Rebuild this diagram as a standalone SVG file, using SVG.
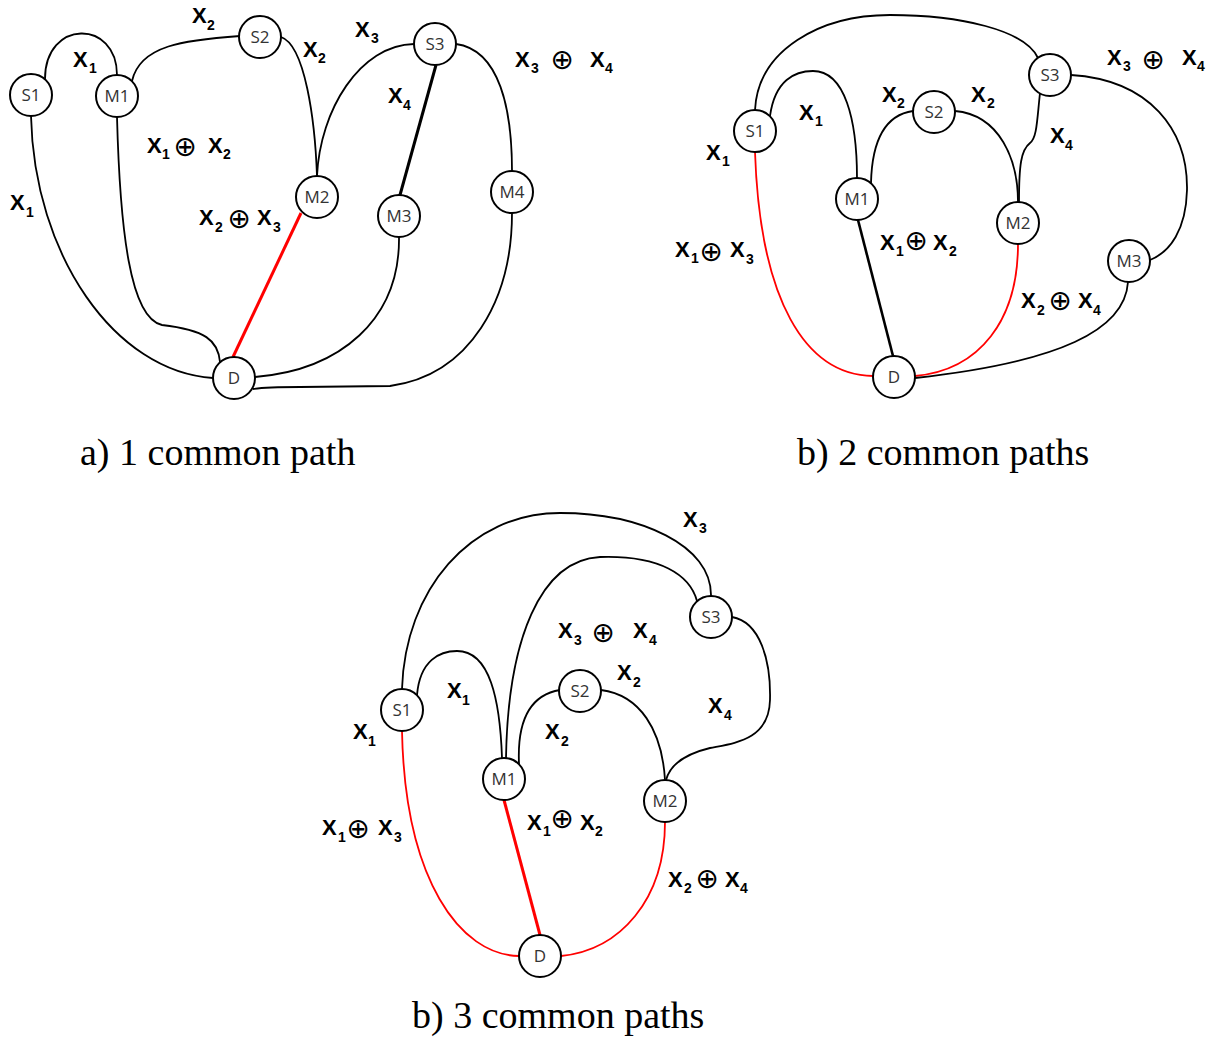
<svg xmlns="http://www.w3.org/2000/svg" width="1221" height="1040" viewBox="0 0 1221 1040">
<style>
.e{fill:none;stroke:#000;stroke-width:1.8}
.r{stroke:#f00}
.t{stroke-width:3}
.n circle{fill:#fff;stroke:#000;stroke-width:2}
.n text{font-family:"Open Sans","Liberation Sans",sans-serif;font-size:17px;fill:#333;text-anchor:middle}
.l{font-family:"Liberation Sans",Arial,sans-serif;font-weight:bold;font-size:22px;fill:#000}
.s{font-size:14px}
.o{font-family:"DejaVu Sans",sans-serif;font-weight:normal;font-size:28px;text-anchor:middle}
.cap{font-family:"Liberation Serif","Times New Roman",serif;font-size:38px;fill:#000}
</style>
<rect width="1221" height="1040" fill="#fff"/>

<!-- (a) one common path -->
<g id="edges-a">
  <path class="e" d="M45,79 C45,19 117,19 117,75"/>
  <path class="e" d="M132,81 C140,45 185,40 240,36"/>
  <path class="e" d="M281,37 C305,45 315,120 317,176"/>
  <path class="e" d="M414,44 C360,45 320,110 317,176"/>
  <path class="e t" d="M436,65 L400,195"/>
  <path class="e" d="M456,44 C500,50 512,110 512,171"/>
  <path class="e" d="M31,116 C34,255 115,372 213,378"/>
  <path class="e" d="M117,117 C120,230 130,318 162,325 C205,330 218,340 220,362"/>
  <path class="e r t" d="M301,213 L233,357"/>
  <path class="e" d="M399,237 C400,320 340,370 255,377"/>
  <path class="e" d="M253,389 C265,387 280,387 300,387 L390,386 C470,375 512,300 512,213"/>
</g>
<g id="a-S1" class="n"><circle cx="31" cy="95" r="21"/><text x="31" y="101">S1</text></g>
<g id="a-M1" class="n"><circle cx="117" cy="96" r="21"/><text x="117" y="102">M1</text></g>
<g id="a-S2" class="n"><circle cx="260" cy="37" r="21"/><text x="260" y="43">S2</text></g>
<g id="a-S3" class="n"><circle cx="435" cy="44" r="21"/><text x="435" y="50">S3</text></g>
<g id="a-M2" class="n"><circle cx="317" cy="197" r="21"/><text x="317" y="203">M2</text></g>
<g id="a-M3" class="n"><circle cx="399" cy="216" r="21"/><text x="399" y="222">M3</text></g>
<g id="a-M4" class="n"><circle cx="512" cy="192" r="21"/><text x="512" y="198">M4</text></g>
<g id="a-D" class="n"><circle cx="234" cy="378" r="21"/><text x="234" y="384">D</text></g>
<g id="labels-a">
  <text class="l"><tspan x="73" y="67">X</tspan><tspan class="s" x="89" y="73">1</tspan></text>
  <text class="l"><tspan x="192" y="23">X</tspan><tspan class="s" x="207" y="30">2</tspan></text>
  <text class="l"><tspan x="147" y="153">X</tspan><tspan class="s" x="162" y="159">1</tspan><tspan class="o" x="185" y="156">⊕</tspan><tspan x="208" y="153">X</tspan><tspan class="s" x="223" y="159">2</tspan></text>
  <text class="l"><tspan x="303" y="57">X</tspan><tspan class="s" x="318" y="63">2</tspan></text>
  <text class="l"><tspan x="355" y="37">X</tspan><tspan class="s" x="371" y="43">3</tspan></text>
  <text class="l"><tspan x="388" y="103">X</tspan><tspan class="s" x="403" y="110">4</tspan></text>
  <text class="l"><tspan x="515" y="67">X</tspan><tspan class="s" x="531" y="73">3</tspan><tspan class="o" x="562" y="69">⊕</tspan><tspan x="590" y="67">X</tspan><tspan class="s" x="605" y="73">4</tspan></text>
  <text class="l"><tspan x="10" y="210">X</tspan><tspan class="s" x="26" y="217">1</tspan></text>
  <text class="l"><tspan x="199" y="225">X</tspan><tspan class="s" x="215" y="232">2</tspan><tspan class="o" x="239" y="228">⊕</tspan><tspan x="257" y="225">X</tspan><tspan class="s" x="273" y="232">3</tspan></text>
</g>
<text class="cap" x="80" y="465">a) 1 common path</text>

<!-- (b) two common paths -->
<g id="edges-b">
  <path class="e" d="M755,110 C758,50 820,15 890,15 C960,15 1025,30 1038,58"/>
  <path class="e" d="M770,116 C775,80 795,71 813,71 C845,71 857,120 857,178"/>
  <path class="e" d="M871,183 C872,140 885,115 913,111"/>
  <path class="e" d="M955,111 C1000,115 1018,160 1018,202"/>
  <path class="e" d="M1040,93 C1037,120 1037,138 1030,143 C1021,150 1019,165 1019,202"/>
  <path class="e" d="M1071,75 C1150,80 1188,130 1187,190 C1186,230 1170,252 1150,260"/>
  <path class="e r" d="M755,152 C760,300 805,375 873,376"/>
  <path class="e" style="stroke-width:2.6" d="M858,220 L893,356"/>
  <path class="e r" d="M1018,244 C1018,320 980,370 915,376"/>
  <path class="e" d="M1128,282 C1125,330 1060,362 915,378"/>
</g>
<g id="b-S1" class="n"><circle cx="755" cy="131" r="21"/><text x="755" y="137">S1</text></g>
<g id="b-S2" class="n"><circle cx="934" cy="112" r="21"/><text x="934" y="118">S2</text></g>
<g id="b-S3" class="n"><circle cx="1050" cy="75" r="21"/><text x="1050" y="81">S3</text></g>
<g id="b-M1" class="n"><circle cx="857" cy="199" r="21"/><text x="857" y="205">M1</text></g>
<g id="b-M2" class="n"><circle cx="1018" cy="223" r="21"/><text x="1018" y="229">M2</text></g>
<g id="b-M3" class="n"><circle cx="1129" cy="261" r="21"/><text x="1129" y="267">M3</text></g>
<g id="b-D" class="n"><circle cx="894" cy="377" r="21"/><text x="894" y="383">D</text></g>
<g id="labels-b">
  <text class="l"><tspan x="706" y="160">X</tspan><tspan class="s" x="722" y="166">1</tspan></text>
  <text class="l"><tspan x="799" y="120">X</tspan><tspan class="s" x="815" y="126">1</tspan></text>
  <text class="l"><tspan x="882" y="102">X</tspan><tspan class="s" x="897" y="108">2</tspan></text>
  <text class="l"><tspan x="971" y="102">X</tspan><tspan class="s" x="987" y="108">2</tspan></text>
  <text class="l"><tspan x="1107" y="65">X</tspan><tspan class="s" x="1123" y="71">3</tspan><tspan class="o" x="1153" y="69">⊕</tspan><tspan x="1182" y="65">X</tspan><tspan class="s" x="1197" y="71">4</tspan></text>
  <text class="l"><tspan x="1050" y="143">X</tspan><tspan class="s" x="1065" y="150">4</tspan></text>
  <text class="l"><tspan x="675" y="257">X</tspan><tspan class="s" x="691" y="263">1</tspan><tspan class="o" x="711" y="261">⊕</tspan><tspan x="730" y="257">X</tspan><tspan class="s" x="746" y="264">3</tspan></text>
  <text class="l"><tspan x="880" y="250">X</tspan><tspan class="s" x="896" y="256">1</tspan><tspan class="o" x="916" y="250">⊕</tspan><tspan x="933" y="250">X</tspan><tspan class="s" x="949" y="256">2</tspan></text>
  <text class="l"><tspan x="1021" y="308">X</tspan><tspan class="s" x="1037" y="315">2</tspan><tspan class="o" x="1060" y="310">⊕</tspan><tspan x="1078" y="308">X</tspan><tspan class="s" x="1093" y="315">4</tspan></text>
</g>
<text class="cap" x="797" y="465">b) 2 common paths</text>

<!-- (c) three common paths -->
<g id="edges-c">
  <path class="e" d="M402,689 C405,590 470,513 560,513 C640,513 712,545 711,596"/>
  <path class="e" d="M417,695 C420,660 440,651 457,651 C490,651 500,700 502,758"/>
  <path class="e" d="M506,758 C508,640 540,560 600,557 C660,555 690,575 697,601"/>
  <path class="e" d="M519,764 C517,720 530,695 560,690"/>
  <path class="e" d="M601,690 C640,695 662,730 665,780"/>
  <path class="e" d="M732,617 C760,622 771,660 770,700 C769,740 735,743 710,748 C685,754 670,765 666,780"/>
  <path class="e r" d="M402,731 C405,880 460,955 519,956"/>
  <path class="e r t" d="M504,800 L540,935"/>
  <path class="e r" d="M665,822 C665,900 620,950 561,956"/>
</g>
<g id="c-S1" class="n"><circle cx="402" cy="710" r="21"/><text x="402" y="716">S1</text></g>
<g id="c-S2" class="n"><circle cx="580" cy="691" r="21"/><text x="580" y="697">S2</text></g>
<g id="c-S3" class="n"><circle cx="711" cy="617" r="21"/><text x="711" y="623">S3</text></g>
<g id="c-M1" class="n"><circle cx="504" cy="779" r="21"/><text x="504" y="785">M1</text></g>
<g id="c-M2" class="n"><circle cx="665" cy="801" r="21"/><text x="665" y="807">M2</text></g>
<g id="c-D" class="n"><circle cx="540" cy="956" r="21"/><text x="540" y="962">D</text></g>
<g id="labels-c">
  <text class="l"><tspan x="683" y="527">X</tspan><tspan class="s" x="699" y="533">3</tspan></text>
  <text class="l"><tspan x="558" y="638">X</tspan><tspan class="s" x="574" y="645">3</tspan><tspan class="o" x="603" y="642">⊕</tspan><tspan x="633" y="638">X</tspan><tspan class="s" x="649" y="645">4</tspan></text>
  <text class="l"><tspan x="617" y="680">X</tspan><tspan class="s" x="633" y="687">2</tspan></text>
  <text class="l"><tspan x="708" y="713">X</tspan><tspan class="s" x="724" y="720">4</tspan></text>
  <text class="l"><tspan x="447" y="698">X</tspan><tspan class="s" x="462" y="705">1</tspan></text>
  <text class="l"><tspan x="353" y="739">X</tspan><tspan class="s" x="368" y="746">1</tspan></text>
  <text class="l"><tspan x="545" y="739">X</tspan><tspan class="s" x="561" y="746">2</tspan></text>
  <text class="l"><tspan x="527" y="830">X</tspan><tspan class="s" x="543" y="836">1</tspan><tspan class="o" x="562" y="828">⊕</tspan><tspan x="580" y="830">X</tspan><tspan class="s" x="595" y="836">2</tspan></text>
  <text class="l"><tspan x="322" y="835">X</tspan><tspan class="s" x="338" y="842">1</tspan><tspan class="o" x="358" y="838">⊕</tspan><tspan x="378" y="835">X</tspan><tspan class="s" x="394" y="842">3</tspan></text>
  <text class="l"><tspan x="668" y="887">X</tspan><tspan class="s" x="684" y="893">2</tspan><tspan class="o" x="707" y="888">⊕</tspan><tspan x="725" y="887">X</tspan><tspan class="s" x="740" y="893">4</tspan></text>
</g>
<text class="cap" x="412" y="1028">b) 3 common paths</text>
</svg>
